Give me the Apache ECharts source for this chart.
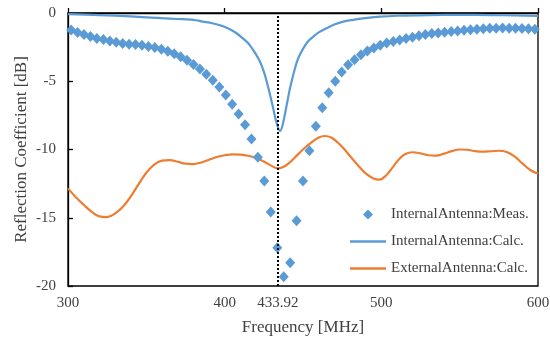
<!DOCTYPE html>
<html>
<head>
<meta charset="utf-8">
<script src="https://cdn.jsdelivr.net/npm/echarts@6/dist/echarts.min.js"></script>
<style>html,body{margin:0;padding:0;background:#fff}#c{width:550px;height:338px}</style>
</head>
<body>
<div id="c"></div>
<script>
// Measured: Internal antenna
var measFreq = [302.0,306.1,310.2,314.3,318.4,322.6,326.7,330.8,334.9,339.0,343.1,347.2,351.3,355.4,359.6,363.7,367.8,371.9,376.0,380.1,384.2,388.3,392.4,396.6,400.7,404.8,408.9,413.0,417.1,421.2,425.3,429.4,433.6,437.7,441.8,445.9,450.0,454.1,458.2,462.3,466.4,470.6,474.7,478.8,482.9,487.0,491.1,495.2,499.3,503.4,507.6,511.7,515.8,519.9,524.0,528.1,532.2,536.3,540.4,544.6,548.7,552.8,556.9,561.0,565.1,569.2,573.3,577.4,581.6,585.7,589.8,593.9,598.0];
var measDb = [-1.25,-1.43,-1.57,-1.73,-1.86,-1.95,-2.05,-2.15,-2.24,-2.29,-2.30,-2.37,-2.45,-2.53,-2.66,-2.80,-2.98,-3.20,-3.47,-3.77,-4.10,-4.48,-4.92,-5.42,-6.00,-6.68,-7.40,-8.18,-9.23,-10.57,-12.31,-14.58,-17.19,-19.32,-18.29,-15.22,-12.31,-10.09,-8.30,-6.95,-5.85,-5.00,-4.33,-3.80,-3.42,-3.05,-2.78,-2.56,-2.36,-2.20,-2.09,-1.98,-1.86,-1.77,-1.66,-1.58,-1.51,-1.46,-1.41,-1.36,-1.31,-1.27,-1.23,-1.19,-1.15,-1.12,-1.11,-1.10,-1.11,-1.12,-1.14,-1.16,-1.19];
// Calculated: Internal antenna
var intFreq = [300,320,340,360,370,380,386,392,397,402,405,408,411,414,416,419,422.5,425,427,429,431,433,435.3,437,439.6,441.7,444.9,447,450.2,453,456.6,460,465,470,475.7,482,488.5,499,510,530,550,570,585,600];
var intDb = [-0.08,-0.15,-0.25,-0.38,-0.44,-0.5,-0.63,-0.75,-0.9,-1.12,-1.3,-1.52,-1.8,-2.1,-2.35,-2.85,-3.56,-4.3,-5.1,-6.0,-7.0,-8.0,-8.64,-8.2,-6.74,-5.52,-4.05,-3.3,-2.59,-2.1,-1.73,-1.42,-1.12,-0.85,-0.63,-0.5,-0.39,-0.27,-0.2,-0.15,-0.13,-0.15,-0.18,-0.22];
// Calculated: External antenna
var extFreq = [300,305,310,315,320,325,330,335,340,345,350,355,360,365,370,375,380,385,390,395,400,405,410,415,420,425,430,434,438,442,446,450,455,460,464,468,472,476,480,485,490,495,499,503,507,511,515,520,525,530,535,540,545,550,555,560,565,570,575,580,585,590,595,600];
var extDb = [-12.85,-13.5,-14.05,-14.55,-14.9,-14.95,-14.7,-14.2,-13.45,-12.55,-11.7,-11.1,-10.82,-10.78,-10.9,-11.04,-11.07,-10.95,-10.75,-10.55,-10.42,-10.36,-10.38,-10.46,-10.62,-10.88,-11.2,-11.38,-11.25,-10.9,-10.45,-10.0,-9.52,-9.12,-9.01,-9.12,-9.47,-9.93,-10.48,-11.15,-11.75,-12.12,-12.2,-11.9,-11.35,-10.75,-10.35,-10.2,-10.28,-10.42,-10.45,-10.3,-10.12,-10.0,-10.02,-10.12,-10.16,-10.13,-10.09,-10.18,-10.5,-11.02,-11.5,-11.78];

var xTickLabels = [300,400,433.92,500,600];
var xTicks = [300,400,500,600];
var resonance = 433.92;
var seriesNames = ['InternalAntenna:Meas.','InternalAntenna:Calc.','ExternalAntenna:Calc.'];

function zip(a,b){var r=[];for(var i=0;i<a.length;i++)r.push([a[i],b[i]]);return r;}

var FONT = 'Liberation Serif';
var TXT = '#404040';
var LINE_ICON = 'path://M0,0L36,0L36,2.6L0,2.6Z';
var chart = echarts.init(document.getElementById('c'), null, {renderer:'canvas'});
chart.setOption({
  animation:false,
  backgroundColor:'#fff',
  grid:{left:68,right:12,top:13,bottom:52,outerBoundsMode:'none',containLabel:false,show:true,borderColor:'#000',borderWidth:1.3,backgroundColor:'transparent'},
  xAxis:{type:'value',min:300,max:600,interval:100,
    name:'Frequency [MHz]',nameLocation:'middle',nameGap:33,nameMoveOverlap:false,
    nameTextStyle:{fontFamily:FONT,fontSize:17,color:TXT},
    axisLine:{lineStyle:{color:'#000',width:1.3}},
    axisTick:{inside:true,length:5,customValues:xTicks,lineStyle:{color:'#000',width:1.3}},
    axisLabel:{customValues:xTickLabels,margin:10,fontFamily:FONT,fontSize:15,color:TXT,
      formatter:function(v){return String(Math.round(v*100)/100);}},
    splitLine:{show:false}},
  yAxis:{type:'value',min:-20,max:0,interval:5,
    name:'Reflection Coefficient [dB]',nameLocation:'middle',nameGap:38,nameMoveOverlap:false,
    nameTextStyle:{fontFamily:FONT,fontSize:17,color:TXT},
    axisLine:{show:true,lineStyle:{color:'#000',width:1.3}},
    axisTick:{show:true,inside:true,length:5,lineStyle:{color:'#000',width:1.3}},
    axisLabel:{margin:12,fontFamily:FONT,fontSize:15,color:TXT},
    splitLine:{show:false}},
  legend:{orient:'vertical',left:345,top:202,itemWidth:36,itemHeight:10,itemGap:12,
    textStyle:{fontFamily:FONT,fontSize:15,color:TXT},
    data:[{name:seriesNames[0],icon:'path://M5,0L10,5L5,10L0,5Z'},
          {name:seriesNames[1],icon:LINE_ICON},
          {name:seriesNames[2],icon:LINE_ICON}]},
  series:[
    {name:seriesNames[2],type:'line',data:zip(extFreq,extDb),smooth:0.4,showSymbol:false,symbol:'none',
      lineStyle:{color:'#ED7D31',width:2.2},itemStyle:{color:'#ED7D31'},z:2},
    {name:seriesNames[1],type:'line',data:zip(intFreq,intDb),smooth:0.3,showSymbol:false,symbol:'none',
      lineStyle:{color:'#5B9BD5',width:2.2},itemStyle:{color:'#5B9BD5'},z:3,
      markLine:{silent:true,symbol:['none','none'],label:{show:false},
        lineStyle:{type:'dotted',color:'#000',width:2},data:[{xAxis:resonance}]}},
    {name:seriesNames[0],type:'scatter',data:zip(measFreq,measDb),symbol:'diamond',symbolSize:[10,11],
      itemStyle:{color:'#5B9BD5',opacity:1},z:4}
  ]
});
</script>
</body>
</html>
